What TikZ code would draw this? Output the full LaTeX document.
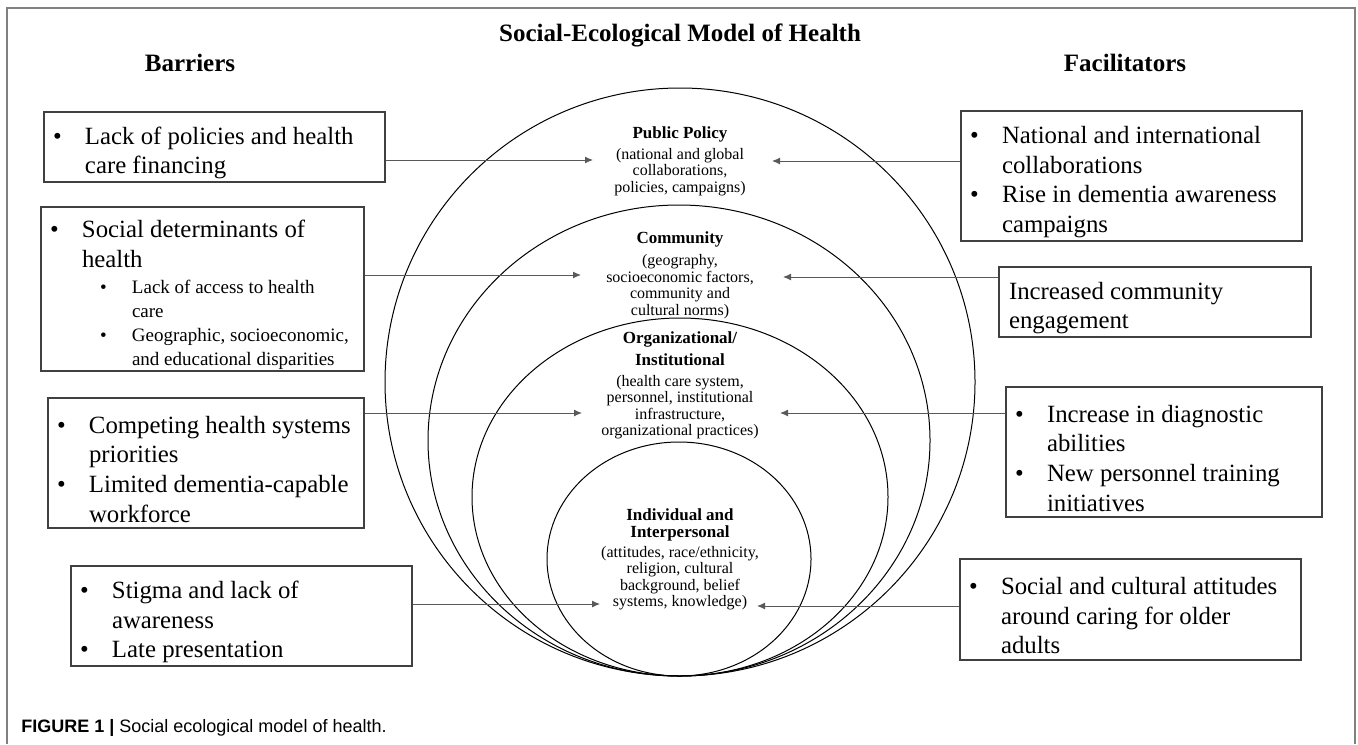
\documentclass[tikz,border=0pt]{standalone}
\usepackage{fontspec}
\setmainfont{Liberation Serif}
\newfontfamily\capfont{Liberation Sans}
\usetikzlibrary{arrows.meta}

\newcommand{\fixsp}{\raggedright\spaceskip=\fontdimen2\font\xspaceskip=\fontdimen2\font}
\newcommand{\bul}[1]{\par\noindent\fixsp\hangindent=20.5pt\hangafter=1\makebox[20.5pt][l]{\hspace{4.5pt}\textbullet}#1\par}
\newcommand{\subbul}[1]{{\fontsize{9.5}{12}\selectfont\par\noindent\fixsp\hangindent=45.5pt\hangafter=1\makebox[45.5pt][l]{\hspace{29.5pt}\textbullet}#1\par}}
\newcommand{\hd}[1]{{\fontsize{8.5}{8.25}\selectfont\bfseries #1}}

\begin{document}
\begin{tikzpicture}[x=0.5pt,y=-0.5pt,
  box/.style={draw=black!75,line width=0.7pt,inner sep=0pt,align=left,font=\fontsize{12.4}{14.8}\selectfont},
  lbl/.style={inner sep=0pt,align=center,font=\fontsize{8}{8.25}\selectfont},
  head/.style={anchor=base,font=\fontsize{12.5}{15}\selectfont\bfseries},
  arr/.style={draw=black!65,line width=0.5pt,-{Latex[length=4pt,width=3.5pt]}},
  ring/.style={line width=0.5pt}]
 \useasboundingbox (0,0) rectangle (1358,744);
 \draw[gray,line width=0.9pt] (7,744) -- (7,8) -- (1355,8) -- (1355,744);

 % nested levels
 \draw[ring] (680,382) ellipse [x radius=147.5pt,y radius=147pt];
 \draw[ring] (679,440.5) ellipse [x radius=125.5pt,y radius=117.75pt];
 \draw[ring] (680,497) ellipse [x radius=104pt,y radius=89.5pt];
 \draw[ring] (679,559) ellipse [x radius=66pt,y radius=58.5pt];

 \node[head] (title) at (680,41.5) {Social-Ecological Model of Health};
 \node[head] (barriers) at (190,71) {Barriers};
 \node[head] (facil) at (1125,71) {Facilitators};

 \node[lbl] (pp) at (680,161) {\hd{Public Policy}\\[2.3pt](national and global\\collaborations,\\policies, campaigns)};
 \node[lbl] (com) at (680,275.5) {\hd{Community}\\[2.75pt](geography,\\socioeconomic factors,\\community and\\cultural norms)};
 \node[lbl] (org) at (680,385.5) {\hd{Organizational/}\\[2.75pt]\hd{Institutional}\\[2.3pt](health care system,\\personnel, institutional\\infrastructure,\\organizational practices)};
 \node[lbl] (ind) at (680,559.5) {\hd{Individual and}\\\hd{Interpersonal}\\[1.8pt](attitudes, race/ethnicity,\\religion, cultural\\background, belief\\systems, knowledge)};

 % barriers
 \node[box,text width=170.5pt,minimum height=35pt] (b1) at (214.5,147) {\bul{Lack of policies and health\newline care financing}};
 \node[box,text width=161.5pt,minimum height=82pt] (b2) at (202.5,289) {\bul{Social determinants of\newline health}\vspace{1.4pt}\subbul{Lack of access to health\newline care}\subbul{Geographic, socioeconomic,\newline and educational disparities}};
 \node[box,text width=158pt,minimum height=65pt] (b3) at (206,463) {\bul{Competing health systems\newline priorities}\bul{Limited dementia-capable\newline workforce}};
 \node[box,text width=170.5pt,minimum height=50pt] (b4) at (241.5,616) {\bul{Stigma and lack of\newline awareness}\bul{Late presentation}};

 % facilitators
 \node[box,text width=170.5pt,minimum height=65pt] (f1) at (1131.5,176) {\bul{National and international\newline collaborations}\bul{Rise in dementia awareness\newline campaigns}};
 \node[box,text width=156pt,minimum height=35pt] (f2) at (1155,302) {\par\noindent\fixsp\hangindent=5pt\hangafter=0 Increased community\newline engagement\par};
 \node[box,text width=158pt,minimum height=65pt] (f3) at (1164,452) {\bul{Increase in diagnostic\newline abilities}\bul{New personnel training\newline initiatives}};
 \node[box,text width=170.5pt,minimum height=50.5pt] (f4) at (1130.5,609.5) {\bul{Social and cultural attitudes\newline around caring for older\newline adults}};

 \coordinate (ppL) at (593,160);  \coordinate (ppR) at (772,161);
 \coordinate (comL) at (581,275); \coordinate (comR) at (783,277);
 \coordinate (orgL) at (582,413); \coordinate (orgR) at (780,413);
 \coordinate (indL) at (600,604); \coordinate (indR) at (757,606);

 \draw[arr] (b1.east |- ppL) -- (ppL);
 \draw[arr] (b2.east |- comL) -- (comL);
 \draw[arr] (b3.east |- orgL) -- (orgL);
 \draw[arr] (b4.east |- indL) -- (indL);
 \draw[arr] (f1.west |- ppR) -- (ppR);
 \draw[arr] (f2.west |- comR) -- (comR);
 \draw[arr] (f3.west |- orgR) -- (orgR);
 \draw[arr] (f4.west |- indR) -- (indR);

 \node[anchor=base west,inner sep=0pt,font=\capfont\fontsize{9}{11}\selectfont] (cap) at (21,732) {\textbf{FIGURE 1 |} Social ecological model of health.};
\end{tikzpicture}
\end{document}
